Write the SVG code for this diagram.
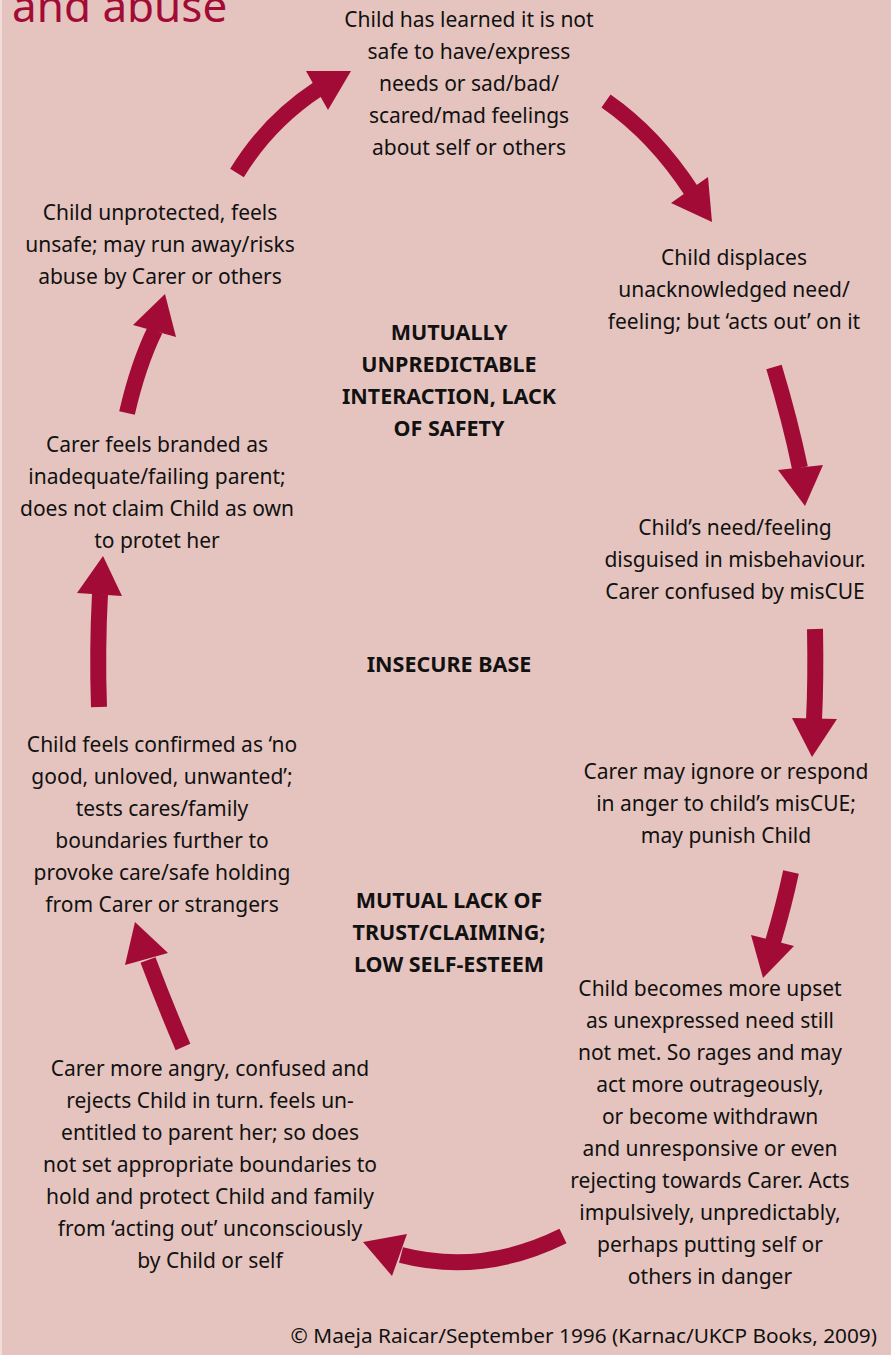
<svg xmlns="http://www.w3.org/2000/svg" width="891" height="1355" viewBox="0 0 891 1355">
<style>
.t{font-family:"Noto Sans","Open Sans","Liberation Sans",sans-serif;font-size:21px;fill:#111;text-anchor:middle}
.b{font-family:"Noto Sans","Open Sans","Liberation Sans",sans-serif;font-size:21.5px;font-weight:bold;fill:#111;text-anchor:middle}
.body{fill:none;stroke:#a30b37;stroke-width:16;stroke-linecap:butt}
.head{fill:#a30b37}
</style>
<rect x="0" y="0" width="891" height="1355" fill="#e5c4bf"/>
<rect x="0" y="0" width="2" height="1355" fill="#f0dcd9"/>
<text x="12" y="22" font-family="'Noto Sans','Liberation Sans',sans-serif" font-size="44" fill="#a30b37">and abuse</text>
<g id="connectors">
<path class="body" d="M237,173 Q268,122 318,89"/><polygon class="head" points="306,71 351,71 328,110"/>
<path class="body" d="M606,101 Q655,135 692,192"/><polygon class="head" points="708,177 671,203 712,222"/>
<path class="body" d="M774,367 Q790,420 800,468"/><polygon class="head" points="778,470 823,465 805,506"/>
<path class="body" d="M815,629 Q816,680 814,720"/><polygon class="head" points="792,718 837,719 812,757"/>
<path class="body" d="M791,872 Q784,905 773,942"/><polygon class="head" points="751,935 794,946 763,978"/>
<path class="body" d="M563,1236 Q482,1276 401,1255"/><polygon class="head" points="407,1234 392,1276 363,1242"/>
<path class="body" d="M183,1047 Q165,1005 148,960"/><polygon class="head" points="125,965 168,953 135,922"/>
<path class="body" d="M99,707 Q97,650 100,594"/><polygon class="head" points="77,593 122,596 103,556"/>
<path class="body" d="M127,413 Q138,365 155,330"/><polygon class="head" points="133,325 176,337 165,294"/>
</g>
<g id="n-top" class="t">
<text x="469" y="27">Child has learned it is not</text>
<text x="469" y="59">safe to have/express</text>
<text x="469" y="91">needs or sad/bad/</text>
<text x="469" y="123">scared/mad feelings</text>
<text x="469" y="155">about self or others</text>
</g>
<g id="n-displaces" class="t">
<text x="734" y="265">Child displaces</text>
<text x="734" y="297">unacknowledged need/</text>
<text x="734" y="329">feeling; but ‘acts out’ on it</text>
</g>
<g id="n-disguised" class="t">
<text x="735" y="535">Child’s need/feeling</text>
<text x="735" y="567">disguised in misbehaviour.</text>
<text x="735" y="599">Carer confused by misCUE</text>
</g>
<g id="n-ignore" class="t">
<text x="726" y="779">Carer may ignore or respond</text>
<text x="726" y="811">in anger to child’s misCUE;</text>
<text x="726" y="843">may punish Child</text>
</g>
<g id="n-upset" class="t">
<text x="710" y="996">Child becomes more upset</text>
<text x="710" y="1028">as unexpressed need still</text>
<text x="710" y="1060">not met. So rages and may</text>
<text x="710" y="1092">act more outrageously,</text>
<text x="710" y="1124">or become withdrawn</text>
<text x="710" y="1156">and unresponsive or even</text>
<text x="710" y="1188">rejecting towards Carer. Acts</text>
<text x="710" y="1220">impulsively, unpredictably,</text>
<text x="710" y="1252">perhaps putting self or</text>
<text x="710" y="1284">others in danger</text>
</g>
<g id="n-angry" class="t">
<text x="210" y="1076">Carer more angry, confused and</text>
<text x="210" y="1108">rejects Child in turn. feels un-</text>
<text x="210" y="1140">entitled to parent her; so does</text>
<text x="210" y="1172">not set appropriate boundaries to</text>
<text x="210" y="1204">hold and protect Child and family</text>
<text x="210" y="1236">from ‘acting out’ unconsciously</text>
<text x="210" y="1268">by Child or self</text>
</g>
<g id="n-confirmed" class="t">
<text x="162" y="752">Child feels confirmed as ‘no</text>
<text x="162" y="784">good, unloved, unwanted’;</text>
<text x="162" y="816">tests cares/family</text>
<text x="162" y="848">boundaries further to</text>
<text x="162" y="880">provoke care/safe holding</text>
<text x="162" y="912">from Carer or strangers</text>
</g>
<g id="n-branded" class="t">
<text x="157" y="452">Carer feels branded as</text>
<text x="157" y="484">inadequate/failing parent;</text>
<text x="157" y="516">does not claim Child as own</text>
<text x="157" y="548">to protet her</text>
</g>
<g id="n-unprotected" class="t">
<text x="160" y="220">Child unprotected, feels</text>
<text x="160" y="252">unsafe; may run away/risks</text>
<text x="160" y="284">abuse by Carer or others</text>
</g>
<g id="label-unpredictable" class="b">
<text x="449" y="340">MUTUALLY</text>
<text x="449" y="372">UNPREDICTABLE</text>
<text x="449" y="404">INTERACTION, LACK</text>
<text x="449" y="436">OF SAFETY</text>
</g>
<g id="label-insecure" class="b">
<text x="449" y="672">INSECURE BASE</text>
</g>
<g id="label-trust" class="b">
<text x="449" y="908">MUTUAL LACK OF</text>
<text x="449" y="940">TRUST/CLAIMING;</text>
<text x="449" y="972">LOW SELF-ESTEEM</text>
</g>
<text x="877" y="1343" class="t" style="text-anchor:end;font-size:20.8px">© Maeja Raicar/September 1996 (Karnac/UKCP Books, 2009)</text>
</svg>
